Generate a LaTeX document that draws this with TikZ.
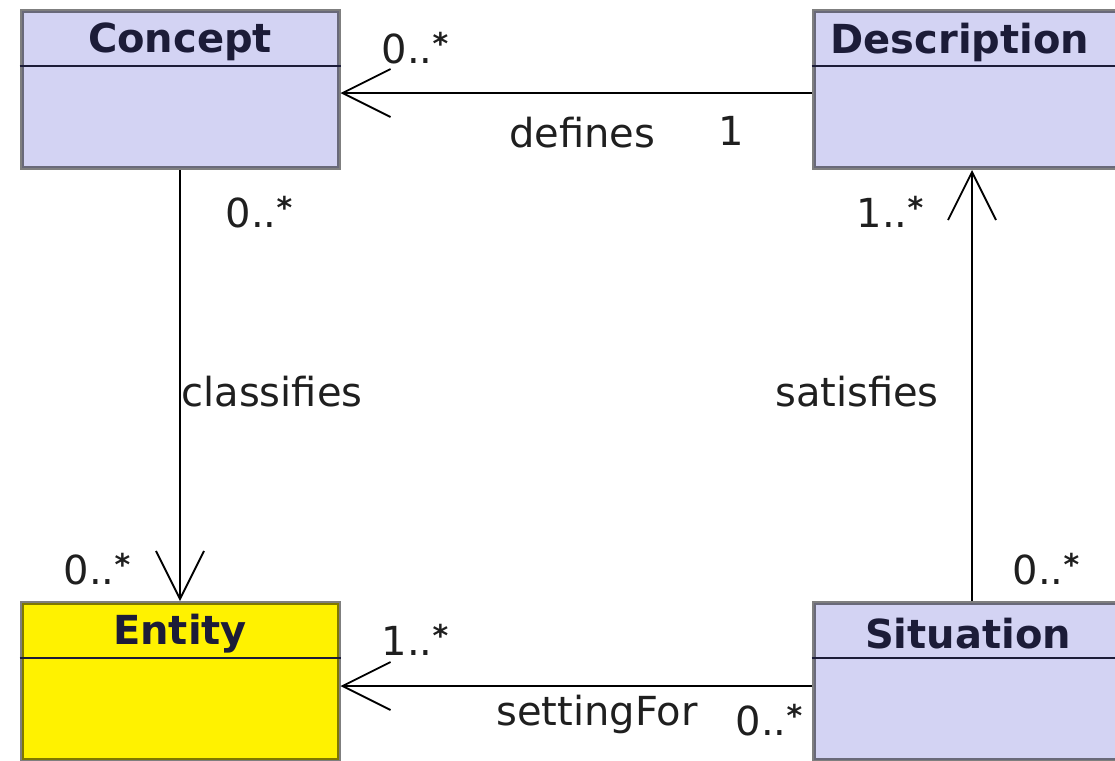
\documentclass[tikz,border=0pt]{standalone}
\usepackage{fontspec}
\setmainfont{DejaVu Sans}
\usetikzlibrary{arrows.meta}

\definecolor{classblue}{RGB}{211,211,243}
\definecolor{entyellow}{RGB}{255,242,0}
\definecolor{titlenavy}{RGB}{28,28,56}

\newcommand{\mstar}{\raisebox{.22em}{\fontsize{15}{15}\selectfont\bfseries *}}

\tikzset{
	umlclass/.style={draw=black, draw opacity=.5, line width=2pt, rectangle,
		minimum width=158.5pt, minimum height=78.5pt, inner sep=0pt},
	classtitle/.style={font=\fontsize{20}{24}\selectfont\bfseries, text=titlenavy, inner sep=0pt},
	headline/.style={line width=1.1pt, draw=titlenavy},
	assoc/.style={line width=.9pt, -{Straight Barb[length=24pt,width=24pt,line width=.9pt]}},
	mult/.style={font=\fontsize{20}{24}\selectfont, text=black!88, inner sep=0pt}
}

\begin{document}
\begin{tikzpicture}[x=.5pt,y=-.5pt]

	\path[use as bounding box, clip] (0,0) rectangle (1115,761);
	\fill[white] (0,0) rectangle (1115,761);

	% classes
	\node[umlclass, fill=classblue] (concept) at (180,89.5) {};
	\node[umlclass, fill=classblue] (description) at (972,89.5) {};
	\node[umlclass, fill=entyellow] (entity) at (180,681.5) {};
	\node[umlclass, fill=classblue] (situation) at (972,681.5) {};

	\foreach \c in {concept,description,entity,situation}
		\draw[headline] ([yshift=-28.5pt]\c.north west) -- ([yshift=-28.5pt]\c.north east);

	\node[classtitle] (conceptname) at ([yshift=-16.5pt]concept.north) {Concept};
	\node[classtitle] (descriptionname) at ([yshift=-16.5pt,xshift=-6pt]description.north) {Description};
	\node[classtitle] (entityname) at ([yshift=-16.5pt]entity.north) {Entity};
	\node[classtitle] (situationname) at ([yshift=-16.5pt,xshift=-2pt]situation.north) {Situation};

	% associations
	\draw[assoc] ([yshift=-1.75pt]description.west) -- ([yshift=-1.75pt]concept.east);
	\draw[assoc] (concept.south) -- (entity.north);
	\draw[assoc] (situation.north) -- (description.south);
	\draw[assoc] ([yshift=-2.25pt]situation.west) -- ([yshift=-2.25pt]entity.east);

	% labels
	\node[mult] (defmany) at (415,48) {0..\mstar};
	\node[mult] (defines) at (582,133) {defines};
	\node[mult] (defone) at (731,131) {1};

	\node[mult] (clsmany) at (259,212) {0..\mstar};
	\node[mult] (classifies) at (272,392) {classifies};
	\node[mult] (entmany) at (97,569) {0..\mstar};

	\node[mult] (satmany) at (890,212) {1..\mstar};
	\node[mult] (satisfies) at (857,392) {satisfies};
	\node[mult] (sitmany) at (1046,569) {0..\mstar};

	\node[mult] (setmany) at (415,640) {1..\mstar};
	\node[mult] (settingfor) at (597,714) {settingFor};
	\node[mult] (setsit) at (769,720) {0..\mstar};

\end{tikzpicture}
\end{document}
